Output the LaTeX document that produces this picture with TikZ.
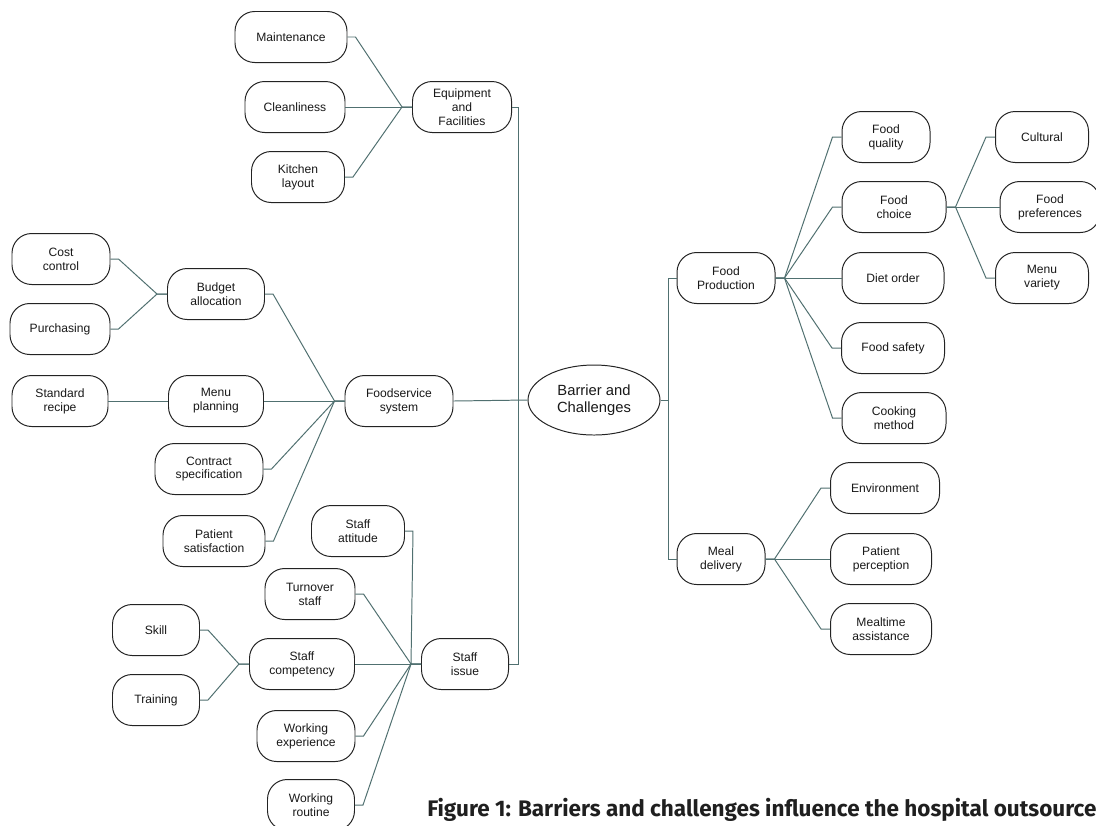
\documentclass[tikz,border=0pt]{standalone}
\usepackage{fontspec}
\setmainfont{Liberation Sans}
\newfontfamily\capfont{Fira Sans}
\usetikzlibrary{shapes.geometric}
\newlength{\unitpx}
\setlength{\unitpx}{0.025cm}
\definecolor{link-gray}{RGB}{80,112,112}
\definecolor{box-line}{RGB}{35,35,35}
\tikzset{
    topic-box/.style = {draw=box-line, fill=white, line width=0.7pt, rectangle, rounded corners=14pt, minimum height=51\unitpx, inner sep=2pt, align=center, text=black!90, font=\fontsize{8.6}{9.9}\selectfont},
    core-ellipse/.style = {draw=box-line, fill=white, line width=0.7pt, ellipse, minimum width=132\unitpx, minimum height=70\unitpx, inner sep=0pt, align=center, text=black!90, font=\fontsize{10.5}{12.3}\selectfont},
    link/.style = {draw=link-gray, line width=0.7pt},
}

\begin{document}
\begin{tikzpicture}[x=\unitpx, y=-\unitpx]
\useasboundingbox[fill=white] (0,0) rectangle (1096,825);

% core
\node[core-ellipse] (barrier) at (594,400) {Barrier and\\Challenges};

% equipment and facilities
\node[topic-box, minimum width=99\unitpx] (equipment) at (462,107) {Equipment\\and\\Facilities};
\node[topic-box, minimum width=112\unitpx] (maintenance) at (291,37) {Maintenance};
\node[topic-box, minimum width=100\unitpx] (cleanliness) at (295,107) {Cleanliness};
\node[topic-box, minimum width=93\unitpx] (kitchen) at (298,177) {Kitchen\\layout};

% foodservice system
\node[topic-box, minimum width=108\unitpx] (foodservice) at (399,401) {Foodservice\\system};
\node[topic-box, minimum width=97\unitpx] (budget) at (216,294) {Budget\\allocation};
\node[topic-box, minimum width=98\unitpx] (cost) at (61,259) {Cost\\control};
\node[topic-box, minimum width=100\unitpx] (purchasing) at (60,329) {Purchasing};
\node[topic-box, minimum width=95\unitpx] (menu) at (216,401) {Menu\\planning};
\node[topic-box, minimum width=96\unitpx] (recipe) at (60,401) {Standard\\recipe};
\node[topic-box, minimum width=108\unitpx] (contract) at (209,469) {Contract\\specification};
\node[topic-box, minimum width=102\unitpx] (satisfaction) at (214,541) {Patient\\satisfaction};

% staff issue
\node[topic-box, minimum width=87\unitpx] (staff) at (465,664) {Staff\\issue};
\node[topic-box, minimum width=93\unitpx] (attitude) at (358,531) {Staff\\attitude};
\node[topic-box, minimum width=90\unitpx] (turnover) at (310,594) {Turnover\\staff};
\node[topic-box, minimum width=105\unitpx] (competency) at (302,664) {Staff\\competency};
\node[topic-box, minimum width=87\unitpx] (skill) at (156,630) {Skill};
\node[topic-box, minimum width=87\unitpx] (training) at (156,700) {Training};
\node[topic-box, minimum width=98\unitpx] (experience) at (306,736) {Working\\experience};
\node[topic-box, minimum width=87\unitpx] (routine) at (311,805) {Working\\routine};

% food production
\node[topic-box, minimum width=98\unitpx] (production) at (726,278) {Food\\Production};
\node[topic-box, minimum width=88\unitpx] (quality) at (886,137) {Food\\quality};
\node[topic-box, minimum width=104\unitpx] (choice) at (894,207) {Food\\choice};
\node[topic-box, minimum width=102\unitpx] (diet) at (893,278) {Diet order};
\node[topic-box, minimum width=103\unitpx] (safety) at (893,348) {Food safety};
\node[topic-box, minimum width=104\unitpx] (cooking) at (894,418) {Cooking\\method};
\node[topic-box, minimum width=93\unitpx] (cultural) at (1042,137) {Cultural};
\node[topic-box, minimum width=100\unitpx] (preferences) at (1050,207) {Food\\preferences};
\node[topic-box, minimum width=93\unitpx] (variety) at (1042,278) {Menu\\variety};

% meal delivery
\node[topic-box, minimum width=88\unitpx] (meal) at (721,559) {Meal\\delivery};
\node[topic-box, minimum width=109\unitpx] (environment) at (885,488) {Environment};
\node[topic-box, minimum width=101\unitpx] (perception) at (881,559) {Patient\\perception};
\node[topic-box, minimum width=101\unitpx] (mealtime) at (881,629) {Mealtime\\assistance};

% trunks
\coordinate (trunk-left) at ([xshift=-9\unitpx]barrier.west);
\coordinate (trunk-right) at ([xshift=8\unitpx]barrier.east);
\draw[link] (equipment.east) -| (trunk-left);
\draw[link] (staff.east) -| (trunk-left);
\draw[link] (foodservice.east) -- (barrier.west);
\draw[link] (barrier.east) -- (trunk-right);
\draw[link] (production.west) -| (trunk-right);
\draw[link] (meal.west) -| (trunk-right);

% left branches
\draw[link] (maintenance.east) -- ++(8,0) -- ([xshift=-10\unitpx]equipment.west) -- (equipment.west);
\draw[link] (cleanliness.east) -- (equipment.west);
\draw[link] (kitchen.east) -- ++(8,0) -- ([xshift=-10\unitpx]equipment.west) -- (equipment.west);

\draw[link] (cost.east) -- ++(8,0) -- ([xshift=-10\unitpx]budget.west) -- (budget.west);
\draw[link] (purchasing.east) -- ++(8,0) -- ([xshift=-10\unitpx]budget.west) -- (budget.west);
\draw[link] (recipe.east) -- (menu.west);
\draw[link] (budget.east) -- ++(8,0) -- ([xshift=-10\unitpx]foodservice.west) -- (foodservice.west);
\draw[link] (menu.east) -- (foodservice.west);
\draw[link] (contract.east) -- ++(8,0) -- ([xshift=-10\unitpx]foodservice.west) -- (foodservice.west);
\draw[link] (satisfaction.east) -- ++(8,0) -- ([xshift=-10\unitpx]foodservice.west) -- (foodservice.west);

\draw[link] (skill.east) -- ++(8,0) -- ([xshift=-10\unitpx]competency.west) -- (competency.west);
\draw[link] (training.east) -- ++(8,0) -- ([xshift=-10\unitpx]competency.west) -- (competency.west);
\draw[link] (attitude.east) -- ++(8,0) -- ([xshift=-10\unitpx]staff.west) -- (staff.west);
\draw[link] (turnover.east) -- ++(8,0) -- ([xshift=-10\unitpx]staff.west) -- (staff.west);
\draw[link] (competency.east) -- (staff.west);
\draw[link] (experience.east) -- ++(8,0) -- ([xshift=-10\unitpx]staff.west) -- (staff.west);
\draw[link] (routine.east) -- ++(8,0) -- ([xshift=-10\unitpx]staff.west) -- (staff.west);

% right branches
\draw[link] (production.east) -- ++(9,0) -- ([xshift=-9\unitpx]quality.west) -- (quality.west);
\draw[link] (production.east) -- ++(9,0) -- ([xshift=-9\unitpx]choice.west) -- (choice.west);
\draw[link] (production.east) -- (diet.west);
\draw[link] (production.east) -- ++(9,0) -- ([xshift=-9\unitpx]safety.west) -- (safety.west);
\draw[link] (production.east) -- ++(9,0) -- ([xshift=-9\unitpx]cooking.west) -- (cooking.west);

\draw[link] (choice.east) -- ++(9,0) -- ([xshift=-9\unitpx]cultural.west) -- (cultural.west);
\draw[link] (choice.east) -- (preferences.west);
\draw[link] (choice.east) -- ++(9,0) -- ([xshift=-9\unitpx]variety.west) -- (variety.west);

\draw[link] (meal.east) -- ++(9,0) -- ([xshift=-9\unitpx]environment.west) -- (environment.west);
\draw[link] (meal.east) -- (perception.west);
\draw[link] (meal.east) -- ++(9,0) -- ([xshift=-9\unitpx]mealtime.west) -- (mealtime.west);

% caption
\node[anchor=base west, inner sep=0pt, text=black!88, font=\capfont\bfseries\fontsize{16}{18}\selectfont] (caption) at (427,816) {Figure 1: Barriers and challenges influence the hospital outsource};
\end{tikzpicture}
\end{document}
